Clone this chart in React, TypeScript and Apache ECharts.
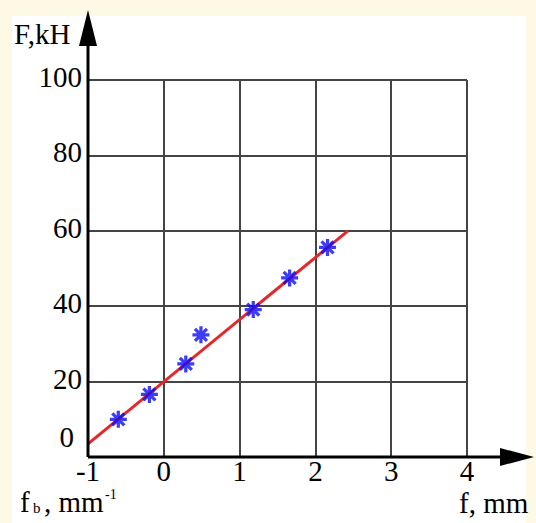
import React, { useEffect, useRef } from "react";
import * as echarts from "echarts";

const xTicks = [-1, 0, 1, 2, 3, 4];
const yTicks = [0, 20, 40, 60, 80, 100];
const pointsX = [-0.6, -0.19, 0.29, 0.49, 1.18, 1.66, 2.16];
const pointsF = [10, 16.6, 24.7, 32.4, 39.1, 47.5, 55.6];
const fitX = [-1, 2.43];
const fitF = [3.5, 60];

const FONT = "'Liberation Serif', 'DejaVu Serif', serif";
const FS = 29;

function asteriskPath(): string {
  const c = 10, L = 10, w = 1.9;
  const parts: string[] = [];
  [0, 45, 90, 135].forEach((deg) => {
    const a = (deg * Math.PI) / 180;
    const dx = Math.cos(a), dy = Math.sin(a);
    const nx = -dy, ny = dx;
    const p = [
      [c + dx * L + nx * w, c + dy * L + ny * w],
      [c + dx * L - nx * w, c + dy * L - ny * w],
      [c - dx * L - nx * w, c - dy * L - ny * w],
      [c - dx * L + nx * w, c - dy * L + ny * w],
    ];
    parts.push(
      "M" + p.map((q) => q[0].toFixed(2) + " " + q[1].toFixed(2)).join(" L") + " Z"
    );
  });
  return "path://" + parts.join(" ");
}

export default function App() {
  const ref = useRef<HTMLDivElement>(null);
  useEffect(() => {
    document.body.style.margin = "0";
    const chart = echarts.init(ref.current!, null, { renderer: "svg" });
    const option: any = {
      animation: false,
      backgroundColor: "#fdf9e4",
      grid: { left: 88, right: 69, top: 80, bottom: 66, containLabel: false },
      xAxis: {
        type: "value",
        min: xTicks[0],
        max: xTicks[xTicks.length - 1],
        interval: 1,
        axisLine: { show: false },
        axisTick: { show: false },
        splitLine: { show: true, lineStyle: { color: "#444", width: 2 } },
        axisLabel: {
          color: "#000",
          fontFamily: FONT,
          fontSize: FS,
          lineHeight: 22,
          margin: 3,
          formatter: (v: number) => String(v),
        },
      },
      yAxis: {
        type: "value",
        min: yTicks[0],
        max: yTicks[yTicks.length - 1],
        interval: 20,
        axisLine: { show: false },
        axisTick: { show: false },
        splitLine: { show: true, lineStyle: { color: "#444", width: 2 } },
        axisLabel: {
          color: "#000",
          fontFamily: FONT,
          fontSize: FS,
          margin: 6,
          formatter: (v: number) => (v === 0 ? "{z|0}" : "{n|" + v + "}"),
          rich: {
            z: { fontFamily: FONT, fontSize: FS, color: "#000", padding: [0, 8, 40, 0] },
            n: { fontFamily: FONT, fontSize: FS, color: "#000", padding: [0, 0, 6, 0] },
          },
        },
      },
      series: [
        {
          type: "line",
          data: fitX.map((x, i) => [x, fitF[i]]),
          showSymbol: false,
          symbol: "none",
          lineStyle: { color: "#e8262a", width: 3 },
          z: 2,
        },
        {
          type: "scatter",
          data: pointsX.map((x, i) => [x, pointsF[i]]),
          symbol: asteriskPath(),
          symbolSize: 17,
          itemStyle: { color: "#0c0cf5" },
          z: 3,
        },
      ],
    };
    chart.setOption(option);

    const o = chart.convertToPixel({ gridIndex: 0 }, [xTicks[0], yTicks[0]]) as number[];
    const ox = o[0], oy = o[1];
    const txt = (x: number, y: number, text: string, size: number) => ({
      type: "text",
      x,
      y,
      style: {
        text,
        font: `${size}px ${FONT}`,
        fill: "#000",
        textVerticalAlign: "middle",
        lineHeight: Math.round(size * 0.75),
      },
      z: 50,
    });
    chart.setOption({
      graphic: [
        {
          type: "rect",
          shape: { x: 12, y: 16, width: 514, height: 507 },
          style: { fill: "#ffffff" },
          z: -10,
          silent: true,
        },
        {
          type: "line",
          shape: { x1: ox, y1: oy, x2: 505, y2: oy },
          style: { stroke: "#000", lineWidth: 3 },
          z: 50,
        },
        {
          type: "polygon",
          shape: { points: [[500, oy - 9], [534, oy], [500, oy + 9]] },
          style: { fill: "#000" },
          z: 50,
        },
        {
          type: "line",
          shape: { x1: ox, y1: oy, x2: ox, y2: 40 },
          style: { stroke: "#000", lineWidth: 3 },
          z: 50,
        },
        {
          type: "polygon",
          shape: { points: [[ox - 9, 46], [ox, 10], [ox + 9, 46]] },
          style: { fill: "#000" },
          z: 50,
        },
        txt(14, 34, "F,kH", FS),
        txt(459, 503, "f, mm", FS),
        txt(20, 502, "f", FS),
        txt(33, 508, "b", 15),
        txt(44, 502, ", mm", FS),
        txt(105, 494, "-1", 14),
      ],
    });
    return () => chart.dispose();
  }, []);
  return (
    <div
      ref={ref}
      style={{ position: "absolute", left: 0, top: 0, width: 536, height: 523 }}
    />
  );
}
